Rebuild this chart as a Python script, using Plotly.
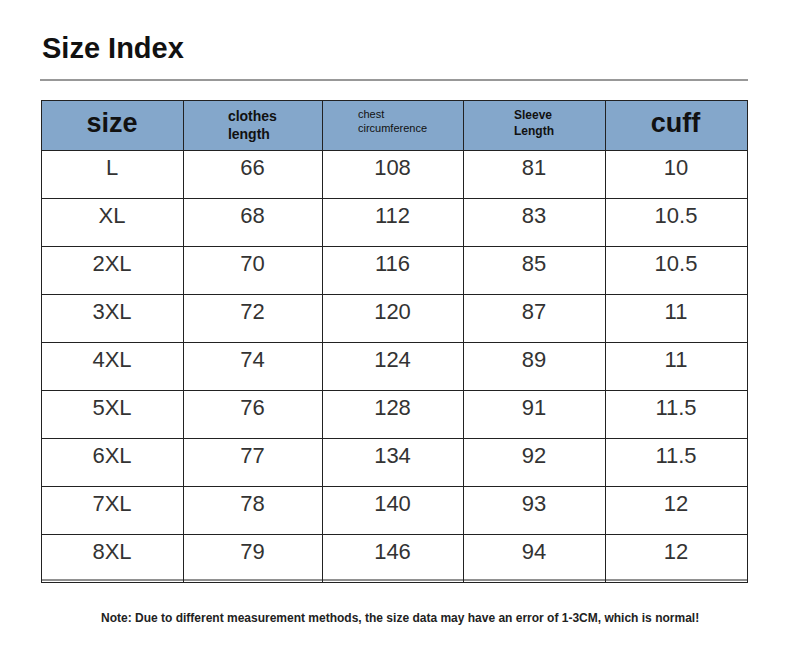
import plotly.graph_objects as go

headers = ["<b>size</b>", "<b>clothes<br>length</b>", "chest<br>circumference", "<b>Sleeve<br>Length</b>", "<b>cuff</b>"]
sizes = ["L", "XL", "2XL", "3XL", "4XL", "5XL", "6XL", "7XL", "8XL"]
length = [66, 68, 70, 72, 74, 76, 77, 78, 79]
chest = [108, 112, 116, 120, 124, 128, 134, 140, 146]
sleeve = [81, 83, 85, 87, 89, 91, 92, 93, 94]
cuff = ["10", "10.5", "10.5", "11", "11", "11.5", "11.5", "12", "12"]

W, H = 790, 662
O = 8  # page offset compensation
def px(x): return (x - O) / W
def py(y): return 1 - (y - O) / H

narrow = "Liberation Sans Narrow, Arial Narrow, sans-serif"
fig = go.Figure(go.Table(
    domain=dict(x=[px(41), px(747)], y=[py(600), py(100)]),
    columnwidth=[142, 139, 141, 142, 142],
    header=dict(values=headers, height=48, fill_color="#84a7cb",
                line=dict(color="#222", width=1), align=["center"] * 5,
                font=dict(family=narrow, color="#111", size=[27, 14, 11, 12, 27])),
    cells=dict(values=[sizes, length, chest, sleeve, cuff], height=48,
               fill_color="white", line=dict(color="#222", width=1), align="center",
               font=dict(family="Liberation Sans, Arial, sans-serif", color="#333", size=22)),
))
fig.add_shape(type="line", xref="paper", yref="paper", x0=px(40), x1=px(748),
              y0=py(80), y1=py(80), line=dict(color="#333", width=1))
fig.add_shape(type="line", xref="paper", yref="paper", x0=px(41), x1=px(747),
              y0=py(580), y1=py(580), line=dict(color="#222", width=1))
fig.add_annotation(text="<b>Size Index</b>", xref="paper", yref="paper", x=px(40), y=py(48),
                   xanchor="left", yanchor="middle", showarrow=False,
                   font=dict(family=narrow, size=29, color="#111"))
fig.add_annotation(text="<b>Note: Due to different measurement methods, the size data may have an error of 1-3CM, which is normal!</b>",
                   xref="paper", yref="paper", x=px(400), y=py(618), xanchor="center", yanchor="middle",
                   showarrow=False, font=dict(family=narrow, size=12, color="#222"))
fig.update_layout(width=W, height=H, margin=dict(l=0, r=0, t=0, b=0),
                  paper_bgcolor="white", plot_bgcolor="white")
fig.write_html("out.html")
